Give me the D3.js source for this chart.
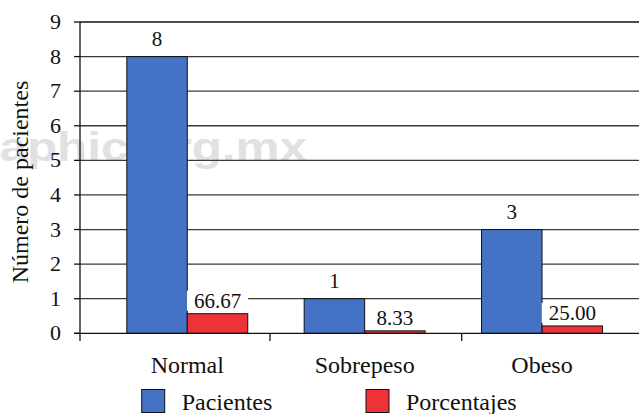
<!DOCTYPE html>
<html>
<head>
<meta charset="utf-8">
<script src="https://cdn.jsdelivr.net/npm/d3@7"></script>
<style>
  html, body { margin: 0; padding: 0; background: #fff; }
  svg { display: block; }
</style>
</head>
<body>
<div id="chart"></div>
<script>
// categories and series
const categories = ["Normal", "Sobrepeso", "Obeso"];
const seriesNames = ["Pacientes", "Porcentajes"];
const pacientes = [8, 1, 3];
const porcentajes = [66.67, 8.33, 25.00];
const yTicks = [0, 1, 2, 3, 4, 5, 6, 7, 8, 9];
const colors = ["#4472c4", "#ee3338"];

const W = 639, H = 414;
const SERIF = "'Liberation Serif', 'Times New Roman', Times, serif";

const svg = d3.select("#chart").append("svg")
  .attr("width", W).attr("height", H);

// y: patient count
const y = d3.scaleLinear().domain([0, 9]).range([333.3, 22]);
// percentage bars are drawn small, on the same baseline
const yPct = d3.scaleLinear().domain([0, 100]).range([y(0), y(0.85)]);

// bar groups
const x = d3.scaleBand().domain(categories)
  .range([98.6, 630.7]).paddingInner(0.318).paddingOuter(0.159);
const xSub = d3.scaleBand().domain(seriesNames).range([0, x.bandwidth()]);
// axis divisions (category ticks)
const xAxisBand = d3.scaleBand().domain(categories).range([78.3, 653.4]);

// faint watermark behind the plot
svg.append("text")
  .attr("x", -50).attr("y", 161)
  .attr("textLength", 357).attr("lengthAdjust", "spacingAndGlyphs")
  .style("font-family", "'Liberation Sans', Arial, sans-serif")
  .style("font-weight", "bold")
  .style("font-size", "41px")
  .style("fill", "#e0e1e2")
  .text("graphic.org.mx");

// gridlines
svg.append("g").selectAll("line")
  .data(yTicks.filter(d => d > 0))
  .join("line")
    .attr("x1", 80).attr("x2", W)
    .attr("y1", d => y(d)).attr("y2", d => y(d))
    .attr("stroke", d => d === 9 ? "#111" : "#3a3a3a")
    .attr("stroke-width", 1.3);

// bars
const rows = categories.map((c, i) => ({ cat: c, vals: [
  { s: seriesNames[0], v: pacientes[i], h: y(pacientes[i]), label: String(pacientes[i]) },
  { s: seriesNames[1], v: porcentajes[i], h: yPct(porcentajes[i]), label: porcentajes[i].toFixed(2) }
]}));

const groups = svg.append("g").selectAll("g")
  .data(rows).join("g")
    .attr("transform", d => `translate(${x(d.cat)},0)`);

groups.selectAll("rect.bar")
  .data(d => d.vals).join("rect")
    .attr("class", "bar")
    .attr("x", d => xSub(d.s))
    .attr("y", d => d.h)
    .attr("width", xSub.bandwidth())
    .attr("height", d => y(0) - d.h)
    .attr("fill", (d, i) => colors[i])
    .attr("stroke", "#111")
    .attr("stroke-width", 1);

// value labels, with white box behind so gridlines break around them
const labels = groups.selectAll("g.lab")
  .data(d => d.vals).join("g").attr("class", "lab");

labels.each(function(d, i) {
  const g = d3.select(this);
  const cx = xSub(d.s) + xSub.bandwidth() / 2;
  const by = d.h - (i === 0 ? 11 : 6);
  const t = g.append("text")
    .attr("x", cx).attr("y", by)
    .attr("text-anchor", "middle")
    .style("font-family", SERIF)
    .style("font-size", "21px")
    .style("fill", "#111")
    .text(d.label);
  const bb = t.node().getBBox();
  g.insert("rect", "text")
    .attr("x", bb.x - 7).attr("y", bb.y + 2)
    .attr("width", bb.width + 14).attr("height", bb.height - 4)
    .attr("fill", "#fff");
});

// y axis
svg.append("line")
  .attr("x1", 80).attr("x2", 80).attr("y1", y(9)).attr("y2", 341)
  .attr("stroke", "#111").attr("stroke-width", 1.3);
svg.append("g").selectAll("line")
  .data(yTicks).join("line")
    .attr("x1", 74).attr("x2", 80)
    .attr("y1", d => y(d)).attr("y2", d => y(d))
    .attr("stroke", "#111").attr("stroke-width", 1.3);
svg.append("g").selectAll("text")
  .data(yTicks).join("text")
    .attr("x", 61).attr("y", d => y(d) + 7)
    .attr("text-anchor", "end")
    .style("font-family", SERIF)
    .style("font-size", "22px")
    .style("fill", "#111")
    .text(d => d);

// x axis
svg.append("line")
  .attr("x1", 74).attr("x2", W).attr("y1", y(0)).attr("y2", y(0))
  .attr("stroke", "#111").attr("stroke-width", 1.3);
svg.append("g").selectAll("line")
  .data(categories.slice(1)).join("line")
    .attr("x1", d => xAxisBand(d)).attr("x2", d => xAxisBand(d))
    .attr("y1", y(0)).attr("y2", 341)
    .attr("stroke", "#111").attr("stroke-width", 1.3);
svg.append("g").selectAll("text")
  .data(categories).join("text")
    .attr("x", d => x(d) + x.bandwidth() / 2)
    .attr("y", 373)
    .attr("text-anchor", "middle")
    .style("font-family", SERIF)
    .style("font-size", "24px")
    .style("fill", "#111")
    .text(d => d);

// y title
svg.append("text")
  .attr("transform", "translate(28,182) rotate(-90)")
  .attr("text-anchor", "middle")
  .style("font-family", SERIF)
  .style("font-size", "24px")
  .style("fill", "#111")
  .text("Número de pacientes");

// legend
const legendX = [141.7, 366];
const leg = svg.append("g").selectAll("g")
  .data(seriesNames).join("g")
    .attr("transform", (d, i) => `translate(${legendX[i]},389.5)`);
leg.append("rect")
  .attr("width", 23).attr("height", 23)
  .attr("fill", (d, i) => colors[i])
  .attr("stroke", "#111").attr("stroke-width", 1);
leg.append("text")
  .attr("x", 40).attr("y", 20)
  .style("font-family", SERIF)
  .style("font-size", "24px")
  .style("fill", "#111")
  .text(d => d);
</script>
</body>
</html>
